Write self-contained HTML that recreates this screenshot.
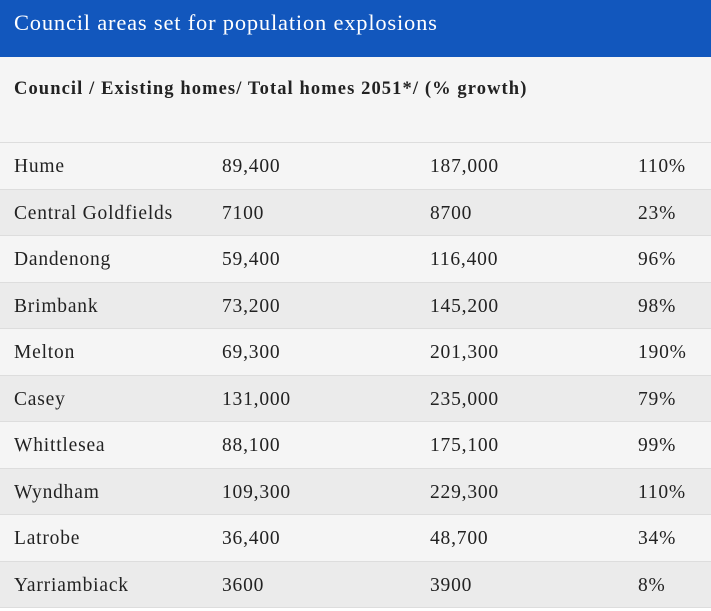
<!DOCTYPE html>
<html><head><style>
body{margin:0;width:711px;height:611px;background:#fff;font-family:"Liberation Serif",serif;color:#222;overflow:hidden}
.h{background:#1257bd;color:#fff;height:57px;line-height:45px;font-size:22.5px;letter-spacing:0.8px;padding-left:14px}
.s{background:#f5f5f5;height:86px;box-sizing:border-box;padding:22px 0 0 14px;font-size:18.5px;letter-spacing:1.1px;font-weight:bold;border-bottom:1px solid #ddd}
.r{position:relative;height:46.5px;box-sizing:border-box;border-bottom:1px solid #ddd;font-size:19.5px;letter-spacing:0.8px;line-height:48px}
.r span{position:absolute;top:0}
.r:nth-child(odd){background:#f5f5f5}.r:nth-child(even){background:#ebebeb}
</style></head><body>
<div class="h">Council areas set for population explosions</div>
<div class="s">Council / Existing homes/ Total homes 2051*/ (% growth)</div>
<div>
<div class="r"><span style="left:14px">Hume</span><span style="left:222px">89,400</span><span style="left:430px">187,000</span><span style="left:638px">110%</span></div>
<div class="r"><span style="left:14px">Central Goldfields</span><span style="left:222px">7100</span><span style="left:430px">8700</span><span style="left:638px">23%</span></div>
<div class="r"><span style="left:14px">Dandenong</span><span style="left:222px">59,400</span><span style="left:430px">116,400</span><span style="left:638px">96%</span></div>
<div class="r"><span style="left:14px">Brimbank</span><span style="left:222px">73,200</span><span style="left:430px">145,200</span><span style="left:638px">98%</span></div>
<div class="r"><span style="left:14px">Melton</span><span style="left:222px">69,300</span><span style="left:430px">201,300</span><span style="left:638px">190%</span></div>
<div class="r"><span style="left:14px">Casey</span><span style="left:222px">131,000</span><span style="left:430px">235,000</span><span style="left:638px">79%</span></div>
<div class="r"><span style="left:14px">Whittlesea</span><span style="left:222px">88,100</span><span style="left:430px">175,100</span><span style="left:638px">99%</span></div>
<div class="r"><span style="left:14px">Wyndham</span><span style="left:222px">109,300</span><span style="left:430px">229,300</span><span style="left:638px">110%</span></div>
<div class="r"><span style="left:14px">Latrobe</span><span style="left:222px">36,400</span><span style="left:430px">48,700</span><span style="left:638px">34%</span></div>
<div class="r"><span style="left:14px">Yarriambiack</span><span style="left:222px">3600</span><span style="left:430px">3900</span><span style="left:638px">8%</span></div>
</div>
</body></html>
